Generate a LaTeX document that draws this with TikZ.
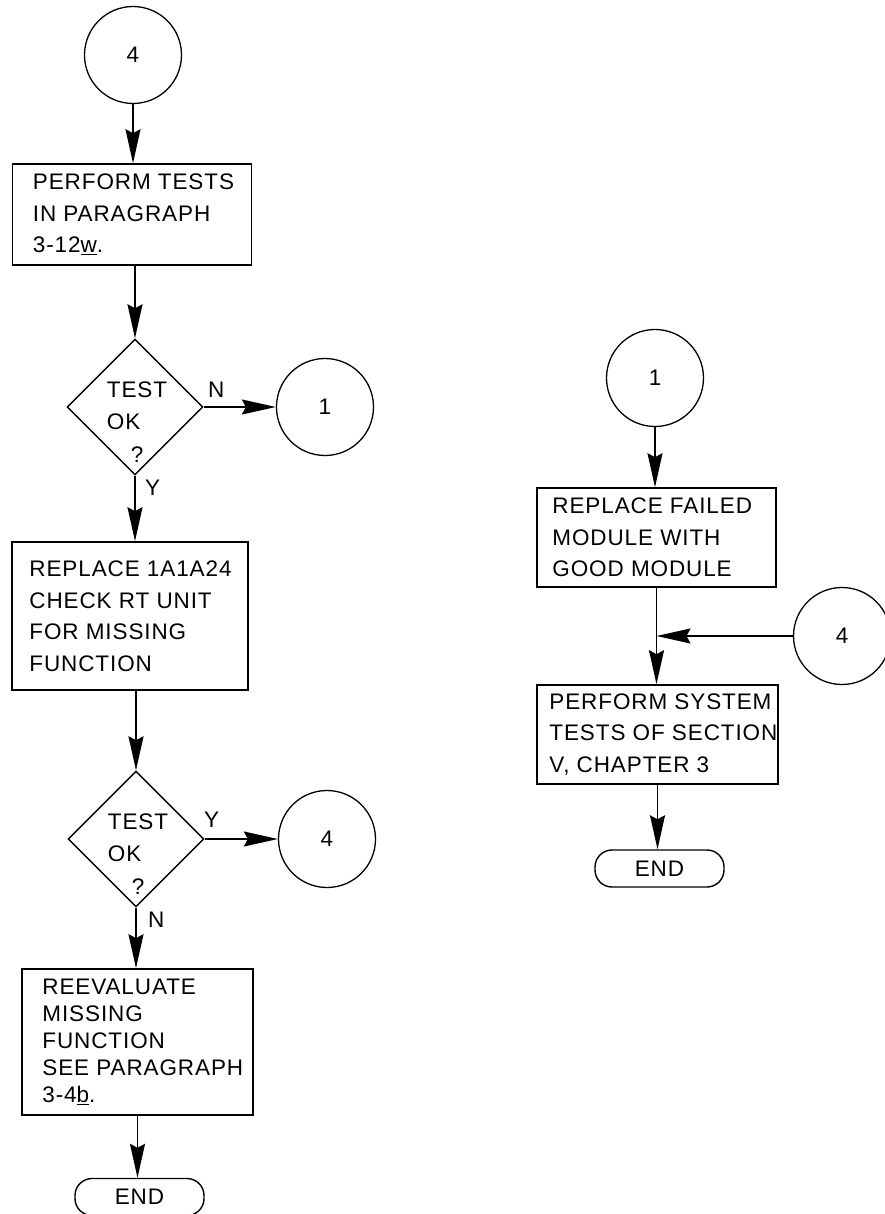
\documentclass[tikz,border=0pt]{standalone}
\usepackage{fontspec}
\setmainfont{Liberation Sans}[LetterSpace=4]
\usetikzlibrary{shapes.geometric,arrows.meta}

\newcommand\boxfont{\fontsize{22.5}{31.5}\selectfont}
\newcommand\tightfont{\fontsize{22.5}{27}\selectfont}

\tikzset{
  stepbox/.style={draw, rectangle, line width=1.6pt, inner sep=0pt},
  txt/.style={font=\boxfont, align=left, inner sep=0pt, anchor=west},
  conn/.style={draw, circle, line width=1.3pt, minimum size=97pt, inner sep=0pt, font=\boxfont},
  decision/.style={draw, diamond, line width=1.4pt, minimum width=136pt, minimum height=136pt, inner sep=0pt},
  dtext/.style={font=\fontsize{22.5}{32.5}\selectfont, align=left, inner sep=0pt},
  term/.style={draw, rectangle, rounded corners=17pt, line width=1.4pt, minimum width=129pt, minimum height=37pt, inner sep=0pt, font=\boxfont},
  flow/.style={line width=1.6pt, -{Stealth[length=34pt,width=15pt,inset=4pt]}},
  branch/.style={font=\boxfont, inner sep=0pt, anchor=base west},
}

\begin{document}
\begin{tikzpicture}[x=1pt,y=-1pt]
\useasboundingbox (0,0) rectangle (884,1214);

% ---------- left column ----------
\node[conn] (c4a) at (133,55) {4};

\node[stepbox, minimum width=239pt, minimum height=101pt] (b1) at (132,214.5) {};
\node[txt] (b1t) at ([xshift=21pt]b1.west) {PERFORM TESTS\\IN PARAGRAPH\\3-12\underline{w}.};

\node[decision] (d1) at (135,407) {};
\node[dtext] (d1t) at (137,422) {TEST\\OK\\\hspace*{24pt}?};
\node[conn] (c1a) at (325,407) {1};

\node[stepbox, minimum width=236pt, minimum height=148pt] (b2) at (130,616) {};
\node[txt] (b2t) at ([xshift=18pt]b2.west) {REPLACE 1A1A24\\CHECK RT UNIT\\FOR MISSING\\FUNCTION};

\node[decision] (d2) at (136,839) {};
\node[dtext] (d2t) at (138,854) {TEST\\OK\\\hspace*{24pt}?};
\node[conn] (c4b) at (327,839) {4};

\node[stepbox, minimum width=231pt, minimum height=146pt] (b3) at (137.5,1042) {};
\node[txt, font=\tightfont] (b3t) at ([xshift=21pt]b3.west) {REEVALUATE\\MISSING\\FUNCTION\\SEE PARAGRAPH\\3-4\underline{b}.};

\node[term] (e1) at (139.5,1197) {END};

% branch labels
\node[branch] (n1) at (208,397) {N};
\node[branch] (y1) at (145,495) {Y};
\node[branch] (y2) at (204,827) {Y};
\node[branch] (n2) at (148,927) {N};

% connectors, left column
\draw[flow] (c4a.south) -- (c4a.south |- b1.north);
\draw[flow] (b1.south -| d1.north) -- (d1.north);
\draw[flow] (d1.east) -- (d1.east -| c1a.west);
\draw[flow] (d1.south) -- (d1.south |- b2.north);
\draw[flow] (b2.south -| d2.north) -- (d2.north);
\draw[flow] (d2.east) -- (d2.east -| c4b.west);
\draw[flow] (d2.south) -- (d2.south |- b3.north);
\draw[flow] (b3.south) -- (b3.south |- e1.north);

% ---------- right column ----------
\node[conn] (c1b) at (655,378) {1};

\node[stepbox, minimum width=239pt, minimum height=99pt] (r1) at (656.5,537.5) {};
\node[txt] (r1t) at ([xshift=16pt]r1.west) {REPLACE FAILED\\MODULE WITH\\GOOD MODULE};

\node[conn] (c4c) at (842,636) {4};
\coordinate (j) at (r1.south |- c4c.west);

\node[stepbox, minimum width=241pt, minimum height=99pt] (r2) at (657.5,734.5) {};
\node[txt] (r2t) at ([xshift=13pt]r2.west) {PERFORM SYSTEM\\TESTS OF SECTION\\V, CHAPTER 3};

\node[term] (e2) at (659.5,868.5) {END};

% connectors, right column
\draw[flow] (c1b.south) -- (c1b.south |- r1.north);
\draw[flow] (r1.south) -- (r1.south |- r2.north);
\draw[flow] (c4c.west) -- (j);
\draw[flow] (r2.south) -- (r2.south |- e2.north);
\end{tikzpicture}
\end{document}
